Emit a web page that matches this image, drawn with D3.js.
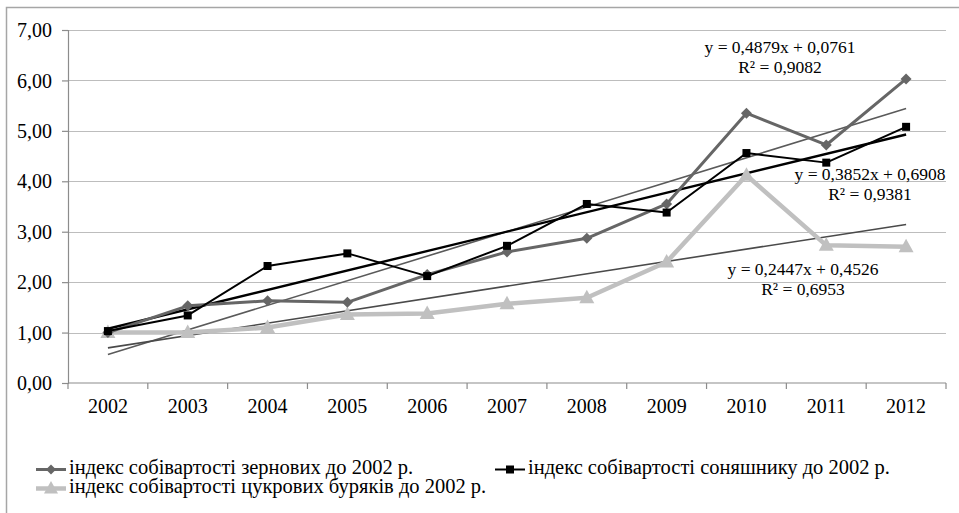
<!DOCTYPE html>
<html>
<head>
<meta charset="utf-8">
<script src="https://cdn.jsdelivr.net/npm/d3@7"></script>
<style>
  body { margin: 0; background: #fff; }
</style>
</head>
<body>
<svg id="chart" width="959" height="513"></svg>
<script>
var years = ["2002", "2003", "2004", "2005", "2006", "2007", "2008", "2009", "2010", "2011", "2012"];
var grain = [1.00, 1.53, 1.63, 1.60, 2.15, 2.60, 2.87, 3.55, 5.35, 4.72, 6.03];
var sunflower = [1.03, 1.34, 2.32, 2.57, 2.12, 2.72, 3.55, 3.38, 4.56, 4.37, 5.08];
var beet = [1.00, 1.00, 1.10, 1.36, 1.38, 1.57, 1.69, 2.40, 4.12, 2.73, 2.70];
var yTicks = [0, 1, 2, 3, 4, 5, 6, 7];
var seriesNames = [
  "індекс собівартості зернових до 2002 р.",
  "індекс собівартості соняшнику до 2002 р.",
  "індекс собівартості цукрових буряків до 2002 р."
];
// trend coefficients as printed on the chart
var trendSlope = [0.4879, 0.3852, 0.2447];
var trendIntercept = [0.0761, 0.6908, 0.4526];
var trendR2 = [0.9082, 0.9381, 0.6953];

var FONT = "Liberation Serif";
var svg = d3.select("#chart");
var margin = {left: 68, right: 13, top: 30, bottom: 130};
var W = 959, H = 513;

var x = d3.scaleBand().domain(years).range([margin.left, W - margin.right]);
var y = d3.scaleLinear().domain([0, 7]).range([383, 30]);
var fmt = function(v) { return v.toFixed(2).replace(".", ","); };
var fmt4 = function(v) { return v.toFixed(4).replace(".", ","); };

// outer frame (cut by the window on the right and bottom)
svg.append("rect")
    .attr("x", 6.5).attr("y", 7.5)
    .attr("width", 1000).attr("height", 600)
    .attr("fill", "none").attr("stroke", "#a6a6a6").attr("stroke-width", 1.5);

// grid
svg.append("g")
  .selectAll("line")
  .data(yTicks.slice(1))
  .enter().append("line")
    .attr("x1", margin.left).attr("x2", W - margin.right)
    .attr("y1", function(d) { return Math.round(y(d)) + 0.5; })
    .attr("y2", function(d) { return Math.round(y(d)) + 0.5; })
    .attr("stroke", "#bdbdbd").attr("stroke-width", 1.2);

// y axis
var yAxis = svg.append("g")
    .attr("transform", "translate(" + margin.left + ",0)")
    .call(d3.axisLeft(y).tickValues(yTicks).tickFormat(fmt).tickSize(6).tickPadding(10));
yAxis.attr("font-family", FONT).attr("font-size", 20);
yAxis.select(".domain").attr("stroke", "#8c8c8c").attr("stroke-width", 1.2);
yAxis.selectAll(".tick line").attr("stroke", "#8c8c8c").attr("stroke-width", 1.2);
yAxis.selectAll("text").attr("font-family", FONT).attr("font-size", 20).attr("fill", "#000")
    .attr("dy", "0.33em");

// x axis with ticks at category boundaries
var xAxisG = svg.append("g").attr("transform", "translate(0," + y(0) + ")");
xAxisG.append("line")
    .attr("x1", margin.left).attr("x2", W - margin.right)
    .attr("stroke", "#8c8c8c").attr("stroke-width", 1.2);
var bounds = years.map(function(d) { return x(d); }).concat([x(years[years.length - 1]) + x.bandwidth()]);
xAxisG.selectAll("line.tk")
  .data(bounds)
  .enter().append("line").attr("class", "tk")
    .attr("x1", function(d) { return d; }).attr("x2", function(d) { return d; })
    .attr("y1", 0).attr("y2", 6)
    .attr("stroke", "#8c8c8c").attr("stroke-width", 1.2);
xAxisG.selectAll("text")
  .data(years)
  .enter().append("text")
    .attr("x", function(d) { return x(d) + x.bandwidth() / 2; })
    .attr("y", 30)
    .attr("text-anchor", "middle")
    .attr("font-family", FONT)
    .attr("font-size", 20)
    .text(function(d) { return d; });

var cx = function(i) { return x(years[i]) + x.bandwidth() / 2; };
var line = d3.line()
    .x(function(d, i) { return cx(i); })
    .y(function(d) { return y(d); });

// trend lines
var trendStyle = [
  {color: "#5a5a5a", width: 1.6},
  {color: "#000000", width: 2.4},
  {color: "#4a4a4a", width: 1.6}
];
trendSlope.forEach(function(a, k) {
  var b = trendIntercept[k];
  svg.append("line")
      .attr("x1", cx(0)).attr("y1", y(a * 1 + b))
      .attr("x2", cx(years.length - 1)).attr("y2", y(a * years.length + b))
      .attr("stroke", trendStyle[k].color)
      .attr("stroke-width", trendStyle[k].width);
});

// beet series
svg.append("path").datum(beet)
    .attr("d", line).attr("fill", "none")
    .attr("stroke", "#c0c0c0").attr("stroke-width", 4.5).attr("stroke-linejoin", "round");
svg.selectAll(".tri").data(beet).enter().append("path")
    .attr("class", "tri")
    .attr("transform", function(d, i) { return "translate(" + cx(i) + "," + y(d) + ")"; })
    .attr("d", "M0,-8L7.5,5.5L-7.5,5.5Z")
    .attr("fill", "#c0c0c0");

// grain series
svg.append("path").datum(grain)
    .attr("d", line).attr("fill", "none")
    .attr("stroke", "#666666").attr("stroke-width", 3).attr("stroke-linejoin", "round");
svg.selectAll(".dia").data(grain).enter().append("path")
    .attr("class", "dia")
    .attr("transform", function(d, i) { return "translate(" + cx(i) + "," + y(d) + ")"; })
    .attr("d", "M0,-5.5L5.5,0L0,5.5L-5.5,0Z")
    .attr("fill", "#666666");

// sunflower series
svg.append("path").datum(sunflower)
    .attr("d", line).attr("fill", "none")
    .attr("stroke", "#000").attr("stroke-width", 2).attr("stroke-linejoin", "round");
svg.selectAll(".sq").data(sunflower).enter().append("rect")
    .attr("class", "sq")
    .attr("x", function(d, i) { return cx(i) - 4; })
    .attr("y", function(d) { return y(d) - 4; })
    .attr("width", 8).attr("height", 8)
    .attr("fill", "#000");

// equation labels
var eqPos = [[780, 53], [870, 180], [803, 275]];
trendSlope.forEach(function(a, k) {
  var t = svg.append("text")
      .attr("x", eqPos[k][0]).attr("y", eqPos[k][1])
      .attr("text-anchor", "middle")
      .attr("font-family", FONT)
      .attr("font-size", 17.5);
  t.append("tspan").attr("x", eqPos[k][0]).attr("dy", 0)
      .text("y = " + fmt4(a) + "x + " + fmt4(trendIntercept[k]));
  t.append("tspan").attr("x", eqPos[k][0]).attr("dy", 19.5)
      .text("R² = " + fmt4(trendR2[k]));
});

// legend
var legendItems = [
  {x: 36, y: 469.5, color: "#666666", w: 3, marker: "dia"},
  {x: 495, y: 469.5, color: "#000", w: 2, marker: "sq"},
  {x: 36, y: 488.5, color: "#c0c0c0", w: 4.5, marker: "tri"}
];
legendItems.forEach(function(it, k) {
  var g = svg.append("g").attr("transform", "translate(" + it.x + "," + it.y + ")");
  g.append("line").attr("x1", 0).attr("x2", 30).attr("y1", 0).attr("y2", 0)
      .attr("stroke", it.color).attr("stroke-width", it.w);
  if (it.marker === "dia") {
    g.append("path").attr("d", "M15,-5L20,0L15,5L10,0Z").attr("fill", it.color);
  } else if (it.marker === "sq") {
    g.append("rect").attr("x", 11).attr("y", -4).attr("width", 8).attr("height", 8).attr("fill", it.color);
  } else {
    g.append("path").attr("d", "M15,-7.5L22,5L8,5Z").attr("fill", it.color);
  }
  g.append("text").attr("x", 33).attr("y", 4.5)
      .attr("font-family", FONT)
      .attr("font-size", 20.5)
      .text(seriesNames[k]);
});
</script>
</body>
</html>
